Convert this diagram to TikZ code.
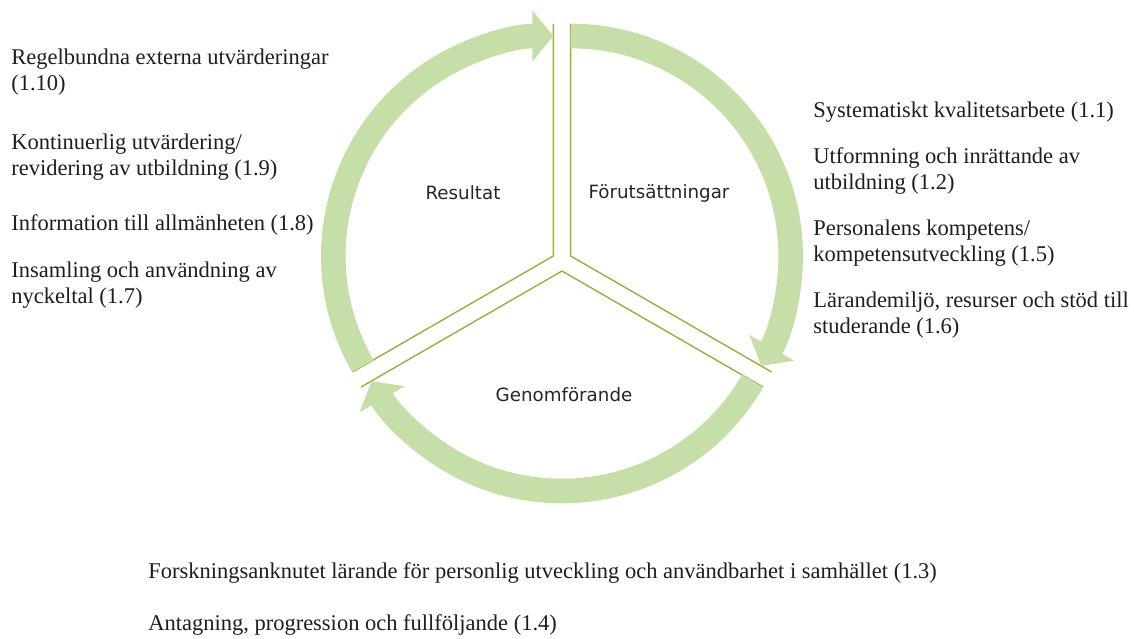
\documentclass[tikz,border=0pt]{standalone}
\usepackage{fontspec}
\setmainfont{Liberation Serif}
\newfontfamily\phasefont{DejaVu Sans}
\usetikzlibrary{positioning,calc,arrows.meta}

\definecolor{bandgreen}{HTML}{C6DFA9}
\definecolor{edgeolive}{HTML}{A0AB40}
\definecolor{phasegray}{HTML}{262626}
\definecolor{itemgray}{HTML}{1E1E1E}

\tikzset{
  band/.style={line width=17.5pt,draw=bandgreen,-{Triangle[width=36pt,length=15pt]}},
  edge/.style={draw=edgeolive,line width=1pt},
  phase/.style={font=\phasefont\fontsize{13}{15}\selectfont,text=phasegray},
  item/.style={font=\fontsize{16}{18.9}\selectfont,text=itemgray,align=left,anchor=base west,inner sep=0pt}
}

\begin{document}
\begin{tikzpicture}[x=0.025cm,y=0.025cm]
\useasboundingbox (0,0) rectangle (1134,639);

% the three sectors, pulled apart
\coordinate (c) at (562,378);
\coordinate (aR) at ($(c)+(150:10)$);
\coordinate (aF) at ($(c)+(30:10)$);
\coordinate (aG) at ($(c)+(270:10)$);

\draw[edge] ($(aR)+(90:232)$) -- (aR) -- ($(aR)+(210:232)$);
\draw[edge] ($(aF)+(90:232)$) -- (aF) -- ($(aF)+(-30:232)$);
\draw[edge] ($(aG)+(210:232)$) -- (aG) -- ($(aG)+(-30:232)$);

% the cycle arrows
\draw[band] ($(aR)+(210:220)$) arc[start angle=210,end angle=90,radius=220];
\draw[band] ($(aF)+(90:220)$) arc[start angle=90,end angle=-30,radius=220];
\draw[band] ($(aG)+(-30:220)$) arc[start angle=-30,end angle=-150,radius=220];

\node[phase] (resultat) at (463,446) {Resultat};
\node[phase] (forutsattningar) at (659,446) {Förutsättningar};
\node[phase] (genomforande) at (564,244) {Genomförande};

% left column (base = last line)
\node[item] (r10) at (11,548.4) {Regelbundna externa utvärderingar\\(1.10)};
\node[item] (r9) at (11,463.4) {Kontinuerlig utvärdering/\\revidering av utbildning (1.9)};
\node[item] (r8) at (11,408) {Information till allmänheten (1.8)};
\node[item] (r7) at (11,335.4) {Insamling och användning av\\nyckeltal (1.7)};

% right column
\node[item] (f1) at (813,521) {Systematiskt kvalitetsarbete (1.1)};
\node[item] (f2) at (813,449.4) {Utformning och inrättande av\\utbildning (1.2)};
\node[item] (f5) at (813,377.4) {Personalens kompetens/\\kompetensutveckling (1.5)};
\node[item] (f6) at (813,305.4) {Lärandemiljö, resurser och stöd till\\studerande (1.6)};

% below the cycle
\node[item] (g3) at (148,60) {Forskningsanknutet lärande för personlig utveckling och användbarhet i samhället (1.3)};
\node[item] (g4) at (148,8) {Antagning, progression och fullföljande (1.4)};
\end{tikzpicture}
\end{document}
